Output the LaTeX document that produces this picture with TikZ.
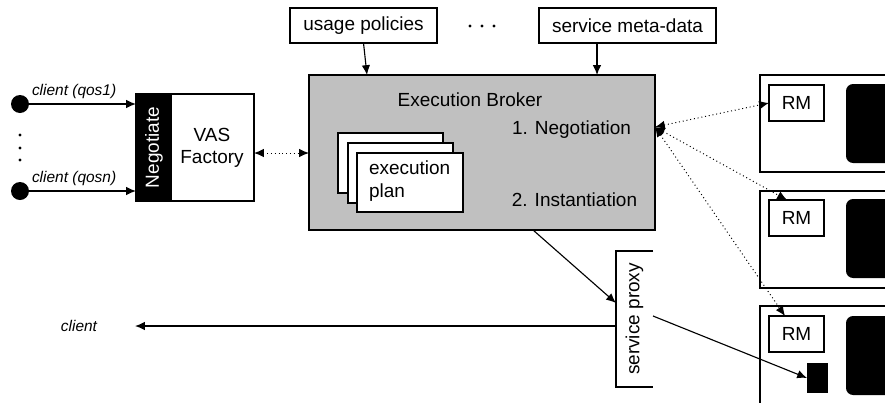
\documentclass[tikz,border=0pt]{standalone}
\usepackage{fontspec}
\setmainfont{Liberation Sans}
\usetikzlibrary{positioning,arrows.meta}

\definecolor{brokergray}{RGB}{192,192,192}

\begin{document}
\begin{tikzpicture}[x=0.025cm,y=-0.025cm,
  every node/.style={inner sep=0pt,outer sep=0pt},
  txt/.style={font=\fontsize{13.5}{16}\selectfont},
  small/.style={font=\fontsize{11}{13}\selectfont\itshape},
  box/.style={draw,line width=0.8pt,txt},
  link/.style={line width=0.8pt,-{Latex[length=7pt,width=6pt]}},
  dotlink/.style={line width=0.7pt,dotted,{Latex[length=7pt,width=6pt]}-{Latex[length=7pt,width=6pt]}},
  blob/.style={fill=black,rounded corners=5pt,anchor=north west}]
\useasboundingbox (0,0) rectangle (885,402);
\clip (0,0) rectangle (885,402);

% inputs of the broker
\node[box,minimum width=147*0.025cm,minimum height=35*0.025cm] (usage) at (363.5,25.5) {usage policies};
\node[box,minimum width=177*0.025cm,minimum height=35*0.025cm] (meta) at (627.5,25.5) {service meta-data};
\foreach \x in {470,482,494} \fill (\x,26) circle (1.6);

% broker with its stacked plans
\node[box,fill=brokergray,minimum width=346*0.025cm,minimum height=155*0.025cm] (broker) at (482,152.5) {};
\node[txt] (title) at (470,100) {Execution Broker};
\node[txt] (negot) at (571.5,130) {1. Negotiation};
\node[txt] (inst) at (574.5,200) {2. Instantiation};
\node[box,fill=white,minimum width=105*0.025cm,minimum height=60*0.025cm] (plana) at (390.5,163) {};
\node[box,fill=white,minimum width=105*0.025cm,minimum height=60*0.025cm] (planb) at (400.5,173) {};
\node[box,fill=white,minimum width=106*0.025cm,minimum height=59*0.025cm] (planc) at (410,182.5) {};
\node[txt,align=left,anchor=west] (plantxt) at (369,181) {execution\\plan};

% VAS factory
\node[box,minimum width=118*0.025cm,minimum height=107*0.025cm] (vas) at (195,147.5) {};
\node[fill=black,anchor=north west,minimum width=36*0.025cm,minimum height=107*0.025cm] (neg) at (vas.north west) {};
\node[txt,text=white,rotate=90] (negtxt) at (neg.center) {Negotiate};
\node[txt,align=center] (vastxt) at (212,148) {VAS\\Factory};

% clients on the left
\node[circle,fill=black,minimum size=18*0.025cm] (c1) at (20,104) {};
\node[circle,fill=black,minimum size=18*0.025cm] (cn) at (20,191) {};
\foreach \y in {135,148,160} \fill (20,\y) circle (1.6);
\draw[link] (c1) -- (c1 -| neg.west);
\draw[link] (cn) -- (cn -| neg.west);
\node[small,anchor=south west] (q1) at (32,99) {client (qos1)};
\node[small,anchor=south west] (qn) at (32,186) {client (qosn)};

\draw[dotlink] (vas.east |- 0,153) -- (broker.west |- 0,153);
\draw[link] (usage.south |- 0,43) -- (broker.north -| 367,0);
\draw[link] (meta.south -| 597,0) -- (broker.north -| 597,0);

% service proxy, open on the right
\node[minimum width=37*0.025cm,minimum height=136*0.025cm] (proxy) at (634.5,319) {};
\node[txt,rotate=90] (proxytxt) at (proxy.center) {service proxy};
\draw[line width=0.8pt] (proxy.north east) -- (proxy.north west) -- (proxy.south west) -- (proxy.south east);
\node[small] (client) at (79,326) {client};
\draw[link] (broker.south -| 533,0) -- (proxy.west |- 0,303);
\draw[link] (proxy.west |- 0,326) -- (135,326);

% resources
\node[box,anchor=north west,minimum width=140*0.025cm,minimum height=97*0.025cm] (res1) at (760,75) {};
\node[box,anchor=north west,minimum width=140*0.025cm,minimum height=97*0.025cm] (res2) at (760,191) {};
\node[box,anchor=north west,minimum width=140*0.025cm,minimum height=110*0.025cm] (res3) at (760,306) {};
\node[box,anchor=north west,minimum width=55*0.025cm,minimum height=36*0.025cm] (rm1) at (769,85) {RM};
\node[box,anchor=north west,minimum width=55*0.025cm,minimum height=36*0.025cm] (rm2) at (769,200) {RM};
\node[box,anchor=north west,minimum width=55*0.025cm,minimum height=36*0.025cm] (rm3) at (769,316) {RM};
\node[blob,minimum width=60*0.025cm,minimum height=79*0.025cm] (blk1) at (846,84) {};
\node[blob,minimum width=60*0.025cm,minimum height=79*0.025cm] (blk2) at (846,199) {};
\node[blob,minimum width=60*0.025cm,minimum height=79*0.025cm] (blk3) at (846,316) {};
\node[fill=black,anchor=north west,minimum width=21*0.025cm,minimum height=30*0.025cm] (sq) at (807,363) {};

\coordinate (hub) at (broker.east |- 0,127);
\draw[dotlink] (hub) -- (rm1.west);
\draw[dotlink] (hub) -- (rm2.north -| 787,0);
\draw[dotlink] (hub) -- (rm3.north -| 785,0);
\draw[link] (proxy.east |- 0,316) -- (sq.west);
\end{tikzpicture}
\end{document}
